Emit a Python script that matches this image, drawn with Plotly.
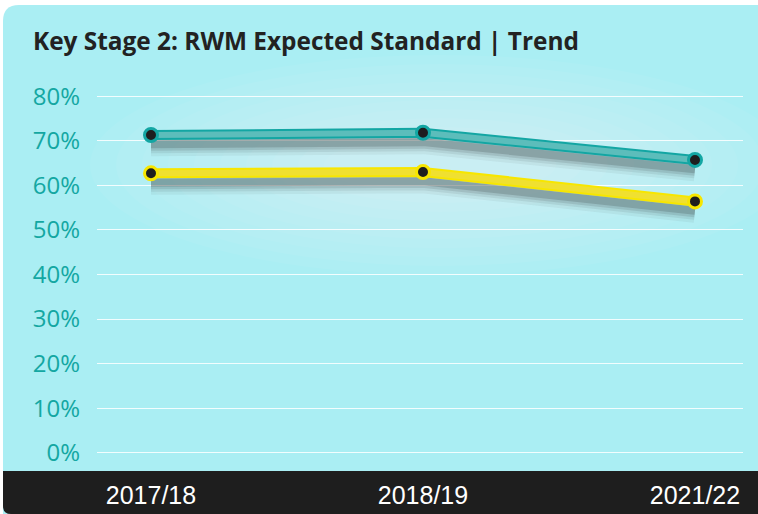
import plotly.graph_objects as go

# ---- data ----
years = ["2017/18", "2018/19", "2021/22"]
series_a = [71.3, 71.8, 65.7]   # teal
series_b = [62.7, 63.0, 56.4]   # yellow
y_ticks = [0, 10, 20, 30, 40, 50, 60, 70, 80]
y_tick_labels = [f"{v}%" for v in y_ticks]
title_text = "Key Stage 2: RWM Expected Standard | Trend"

W, H = 758, 514
ML, MR, MT, MB = 97, 15, 94, 59

def px(x):
    return (x - ML) / (W - ML - MR)

def py(y):
    return (H - MB - y) / (H - MT - MB)

fig = go.Figure()

SHADOW_OFF = 2.1
teal_line = "#5CBDBB"
teal_edge = "#13A6A3"
yellow_line = "#F0E030"
yellow_edge = "#F7E600"

for vals in (series_a, series_b):
    sh = [v - SHADOW_OFF for v in vals]
    for w, a in ((24, 0.06), (18, 0.09), (13, 0.13), (8, 0.2)):
        fig.add_trace(go.Scatter(x=years, y=sh, mode="lines",
                                 line=dict(color=f"rgba(45,55,55,{a})", width=w, shape="linear"),
                                 hoverinfo="skip", showlegend=False))

for vals, lc, ec in ((series_a, teal_line, teal_edge), (series_b, yellow_line, yellow_edge)):
    fig.add_trace(go.Scatter(x=years, y=vals, mode="lines",
                             line=dict(color=ec, width=10), hoverinfo="skip", showlegend=False))
    fig.add_trace(go.Scatter(x=years, y=vals, mode="lines+markers",
                             line=dict(color=lc, width=6),
                             marker=dict(size=13, color="#1E1E1E", line=dict(color=ec, width=3)),
                             showlegend=False))

shapes = []
# card
x0, x1, y0, y1, r = px(3), px(770), py(5), py(514), 16
rx = r / (W - ML - MR)
ry = r / (H - MT - MB)
shapes.append(dict(type="path", xref="paper", yref="paper", layer="below",
                   path=f"M {x0},{y1} L {x0},{y0 - ry} Q {x0},{y0} {x0 + rx},{y0} L {x1},{y0} L {x1},{y1} Z",
                   fillcolor="#AAEEF3", line=dict(width=0)))
# soft glow around the lines
for i in range(10):
    dx, dy = 300 - i * 26, 110 - i * 9
    shapes.append(dict(type="circle", xref="paper", yref="paper", layer="below",
                       x0=px(430 - dx - 40), x1=px(430 + dx + 60),
                       y0=py(165 - dy), y1=py(165 + dy),
                       fillcolor="rgba(255,255,255,0.05)", line=dict(width=0)))
# dark band
b0, b1, rb = py(471), py(514), 8
rbx = rb / (W - ML - MR)
rby = rb / (H - MT - MB)
shapes.append(dict(type="path", xref="paper", yref="paper", layer="below",
                   path=f"M {x0},{b0} L {x1},{b0} L {x1},{b1} L {x0 + rbx},{b1} Q {x0},{b1} {x0},{b1 + rby} Z",
                   fillcolor="#1E1E1E", line=dict(width=0)))

fig.update_layout(
    width=W, height=H,
    margin=dict(l=ML, r=MR, t=MT, b=MB, autoexpand=False),
    paper_bgcolor="white",
    plot_bgcolor="rgba(0,0,0,0)",
    shapes=shapes,
    title=dict(text=title_text, x=33 / W, xref="container", xanchor="left",
               y=1 - 41 / H, yanchor="middle",
               font=dict(family="Open Sans", size=24.4, color="#222222", weight="bold")),
    xaxis=dict(type="category", range=[-0.1985, 2.1765], showgrid=False, zeroline=False,
               showline=False, ticks="", ticklabelstandoff=23, automargin=False,
               tickfont=dict(family="Liberation Sans, Arial, sans-serif", size=25, color="white")),
    yaxis=dict(range=[-0.5, 80.5], tickmode="array", tickvals=y_ticks, ticktext=y_tick_labels,
               showgrid=True, gridcolor="rgba(255,255,255,0.85)", gridwidth=1.3, automargin=False,
               zeroline=False, showline=False, ticks="", ticklabelstandoff=16,
               tickfont=dict(family="Open Sans", size=24, color="#14A7A2")),
)

fig.write_html("out.html", config={"displayModeBar": False},
               post_script="document.body.style.margin='0';")
